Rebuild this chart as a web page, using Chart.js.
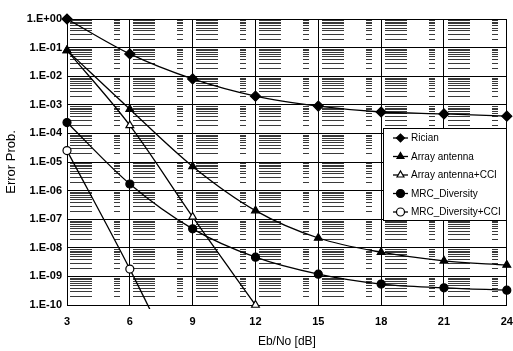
<!DOCTYPE html>
<html>
<head>
<meta charset="utf-8">
<script src="https://cdn.jsdelivr.net/npm/chart.js@4/dist/chart.umd.min.js"></script>
<style>
html, body { margin: 0; padding: 0; background: #fff; }
#wrap { width: 513px; height: 351px; }
</style>
</head>
<body>
<div id="wrap"><canvas id="ber"></canvas></div>
<script>
// Eb/No in dB
var ebno = [3, 6, 9, 12, 15, 18, 21, 24];

// error probabilities
var rician      = [1, 6e-2, 8e-3, 2e-3, 9e-4, 5.6e-4, 4.8e-4, 4e-4];
var arrayAnt    = [8e-2, 7e-4, 7e-6, 2e-7, 2.2e-8, 7e-9, 3.5e-9, 2.5e-9];
var arrayAntCCI = [8e-2, 1.9e-4, 1.2e-7, 1e-10];
var mrc         = [2.4e-4, 1.7e-6, 4.6e-8, 4.7e-9, 1.2e-9, 5.4e-10, 4e-10, 3.3e-10];
var mrcCCI      = [2.5e-5, 1.8e-9, 6e-14];

var yTicks = [1, 1e-1, 1e-2, 1e-3, 1e-4, 1e-5, 1e-6, 1e-7, 1e-8, 1e-9, 1e-10];

function pts(arr) {
  return arr.map(function (v, i) { return { x: ebno[i], y: v }; });
}

function expLabel(v) {
  var e = Math.round(Math.log10(v));
  return '1.E' + (e < 0 ? '-' : '+') + String(Math.abs(e)).padStart(2, '0');
}

function series(label, arr, style, filled) {
  return {
    label: label,
    data: pts(arr),
    borderColor: '#000',
    borderWidth: 1.3,
    pointStyle: style,
    pointRadius: style === 'circle' ? 4 : (style === 'triangle' ? 4.5 : 5),
    pointBackgroundColor: filled ? '#000' : '#fff',
    pointBorderColor: '#000',
    pointBorderWidth: 1.2,
    cubicInterpolationMode: 'monotone',
    clip: { left: 8, top: 8, right: 8, bottom: 4 },
    fill: false
  };
}

// dashed minor log grid between the decade lines
var minorGrid = {
  id: 'minorGrid',
  beforeDatasetsDraw: function (chart) {
    var ctx = chart.ctx, a = chart.chartArea, y = chart.scales.y;
    ctx.save();
    ctx.strokeStyle = '#3a3a3a';
    ctx.lineWidth = 1;
    ctx.setLineDash([22, 22, 6, 13]);
    ctx.lineDashOffset = -2;
    for (var e = -10; e < 0; e++) {
      for (var m = 2; m <= 9; m++) {
        var py = Math.round(y.getPixelForValue(m * Math.pow(10, e))) + 0.5;
        ctx.beginPath();
        ctx.moveTo(a.left + 1, py);
        ctx.lineTo(a.right, py);
        ctx.stroke();
      }
    }
    ctx.restore();
  }
};

// legend box drawn inside the plot
var boxLegend = {
  id: 'boxLegend',
  afterDraw: function (chart) {
    var ctx = chart.ctx;
    var bx = 383, by = 128, bw = 123, bh = 92;
    ctx.save();
    ctx.fillStyle = '#fff';
    ctx.fillRect(bx, by, bw, bh);
    ctx.strokeStyle = '#000';
    ctx.lineWidth = 1;
    ctx.strokeRect(bx + 0.5, by + 0.5, bw, bh);
    ctx.font = '10px "Liberation Sans", Arial, sans-serif';
    ctx.textBaseline = 'middle';
    chart.data.datasets.forEach(function (ds, i) {
      var ly = by + 10 + i * 18.5;
      ctx.strokeStyle = '#000';
      ctx.lineWidth = 1.3;
      ctx.beginPath();
      ctx.moveTo(bx + 10, ly);
      ctx.lineTo(bx + 25, ly);
      ctx.stroke();
      ctx.fillStyle = ds.pointBackgroundColor;
      ctx.strokeStyle = '#000';
      ctx.lineWidth = 1.2;
      Chart.helpers.drawPoint(ctx, { pointStyle: ds.pointStyle, radius: 4, rotation: 0, borderWidth: 1.2 }, bx + 17.5, ly);
      ctx.fillStyle = '#000';
      ctx.fillText(ds.label, bx + 28, ly + 0.5);
    });
    ctx.restore();
  }
};

new Chart(document.getElementById('ber'), {
  type: 'line',
  data: {
    datasets: [
      series('Rician', rician, 'rectRot', true),
      series('Array antenna', arrayAnt, 'triangle', true),
      series('Array antenna+CCI', arrayAntCCI, 'triangle', false),
      series('MRC_Diversity', mrc, 'circle', true),
      series('MRC_Diversity+CCI', mrcCCI, 'circle', false)
    ]
  },
  options: {
    responsive: true,
    maintainAspectRatio: false,
    animation: false,
    layout: { padding: { left: 0, top: 19, right: 4, bottom: 0 } },
    plugins: { legend: { display: false }, tooltip: { enabled: false } },
    scales: {
      x: {
        type: 'linear',
        min: 3,
        max: 24,
        ticks: {
          stepSize: 3,
          padding: 10,
          color: '#000',
          font: { family: '"Liberation Sans", Arial, sans-serif', size: 11, weight: 'bold' }
        },
        grid: { color: '#000', lineWidth: 1, drawTicks: false },
        border: { color: '#000', width: 1 },
        title: {
          display: true,
          text: 'Eb/No [dB]',
          color: '#000',
          padding: { top: 0, bottom: 2 },
          font: { family: '"Liberation Sans", Arial, sans-serif', size: 12 }
        },
        afterFit: function (s) { s.height = 46; s.paddingLeft = 0; s.paddingRight = 0; }
      },
      y: {
        type: 'logarithmic',
        min: 1e-10,
        max: 1,
        afterBuildTicks: function (s) { s.ticks = yTicks.map(function (v) { return { value: v }; }); },
        ticks: {
          padding: 5,
          color: '#000',
          autoSkip: false,
          font: { family: '"Liberation Sans", Arial, sans-serif', size: 11, weight: 'bold' },
          callback: function (v) { return expLabel(v); }
        },
        grid: { color: '#000', lineWidth: 1, drawTicks: false },
        border: { color: '#000', width: 1 },
        title: {
          display: true,
          text: 'Error Prob.',
          color: '#000',
          padding: { top: 4, bottom: 0 },
          font: { family: '"Liberation Sans", Arial, sans-serif', size: 13 }
        },
        afterFit: function (s) { s.width = 67; }
      }
    }
  },
  plugins: [minorGrid, boxLegend]
});
</script>
</body>
</html>
